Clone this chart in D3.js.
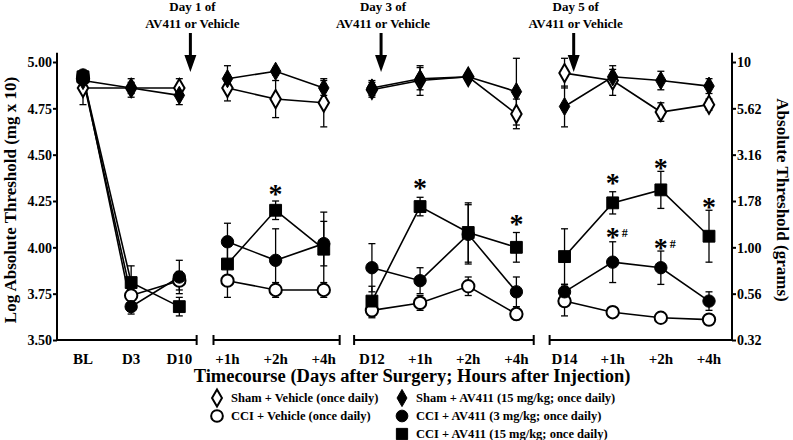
<!DOCTYPE html>
<html><head><meta charset="utf-8">
<script src="https://cdn.jsdelivr.net/npm/d3@7"></script>
<style>body{margin:0;background:#fff}svg{display:block}text{font-family:"Liberation Serif","Times New Roman",serif;font-weight:bold;fill:#000}</style>
</head><body><svg id="c" width="793" height="440"></svg>
<script>
const categories = ["BL","D3","D10","+1h","+2h","+4h","D12","+1h","+2h","+4h","D14","+1h","+2h","+4h"];
const panels = [[0,2],[3,5],[6,9],[10,13]];
const shamVeh  = [4.86,4.86,4.86, 4.86,4.80,4.78, 4.85,4.90,4.92,4.72, 4.94,4.90,4.73,4.77];
const shamAV   = [4.90,4.86,4.82, 4.91,4.95,4.86, 4.86,4.91,4.92,4.84, 4.76,4.92,4.90,4.87];
const cciVeh   = [4.91,3.74,3.82, 3.82,3.77,3.77, 3.66,3.70,3.79,3.64, 3.71,3.65,3.62,3.61];
const cciAV3   = [4.93,3.68,3.84, 4.03,3.93,4.02, 3.89,3.82,4.07,3.76, 3.76,3.92,3.89,3.71];
const cciAV15  = [4.92,3.81,3.68, 3.91,4.20,3.99, 3.71,4.22,4.08,4.00, 3.95,4.24,4.31,4.06];
const shamVehErr = [0.09,0.05,0.05, 0.07,0.10,0.13, 0.04,0.08,0.02,0.08, 0.08,0.08,0.05,0.03];
const shamAVErr  = [0.03,0.03,0.05, 0.07,0.02,0.04, 0.04,0.06,0.02,0.18, 0.11,0.04,0.05,0.04];
const cciVehErr  = [0.03,0.05,0.05, 0.09,0.04,0.04, 0.04,0.04,0.05,0.03, 0.08,0.02,0.02,0.02];
const cciAV3Err  = [0.02,0.04,0.09, 0.10,0.17,0.12, 0.13,0.07,0.16,0.08, 0.04,0.11,0.09,0.05];
const cciAV15Err = [0.02,0.09,0.05, 0.10,0.05,0.20, 0.08,0.05,0.16,0.08, 0.15,0.06,0.10,0.14];
const leftTicks = [3.5,3.75,4.0,4.25,4.5,4.75,5.0];
const rightTickLabels = ["0.32","0.56","1.00","1.78","3.16","5.62","10"];
const seriesNames = ["Sham + Vehicle (once daily)","CCI + Vehicle (once daily)","Sham + AV411 (15 mg/kg; once daily)","CCI + AV411 (3 mg/kg; once daily)","CCI + AV411 (15 mg/kg; once daily)"];
const seriesShapes = ["diamond","circle","diamond","circle","square"];
const seriesFilled = [false,false,true,true,true];
const seriesValues = [shamVeh,cciVeh,shamAV,cciAV3,cciAV15];
const seriesErrors = [shamVehErr,cciVehErr,shamAVErr,cciAV3Err,cciAV15Err];
const doseLabels = [["Day 1 of","AV411 or Vehicle"],["Day 3 of","AV411 or Vehicle"],["Day 5 of","AV411 or Vehicle"]];
const doseArrowPos = [2.23,6.19,10.19];
const sigPos = [4,7,9,11,12,13,11,12];
const sigLevel = [4.31,4.34,4.15,4.37,4.45,4.24,4.08,4.02];
const sigText = ["*","*","*","*","*","*","*#","*#"];

const svg = d3.select("#c");
const x = d3.scaleLinear().domain([0,13]).range([83,709]);
const y = d3.scaleLinear().domain([3.5,5.0]).range([340,62]);
const xL = 57, xR = 732;

// Y axes
const ga = svg.append("g").attr("transform",`translate(${xL},0)`)
  .call(d3.axisLeft(y).tickValues(leftTicks).tickFormat(d3.format(".2f")).tickSize(4).tickSizeOuter(0));
ga.select(".domain").remove();
ga.selectAll("line").attr("stroke-width",2);
ga.selectAll("text").style("font-size","14px").attr("x",-5).attr("dy","0.35em");
svg.append("line").attr("x1",xL).attr("x2",xL).attr("y1",y(5.05)).attr("y2",y(3.5)).attr("stroke","#000").attr("stroke-width",2);

const gr = svg.append("g").attr("transform",`translate(${xR},0)`)
  .call(d3.axisRight(y).tickValues(leftTicks).tickFormat((d,i)=>rightTickLabels[i]).tickSize(4).tickSizeOuter(0));
gr.select(".domain").remove();
gr.selectAll("line").attr("stroke-width",2);
gr.selectAll("text").style("font-size","14px").attr("x",5).attr("dy","0.35em");
svg.append("line").attr("x1",xR).attr("x2",xR).attr("y1",y(5.05)).attr("y2",y(3.5)).attr("stroke","#000").attr("stroke-width",2);

// X axis segments
const segPad = [[null,0.36],[0.29,0.33],[0.37,0.36],[0.31,null]];
panels.forEach((p,i)=>{
  const a = segPad[i][0]===null ? xL : x(p[0]-segPad[i][0]);
  const b = segPad[i][1]===null ? xR : x(p[1]+segPad[i][1]);
  svg.append("line").attr("x1",a).attr("x2",b).attr("y1",340).attr("y2",340).attr("stroke","#000").attr("stroke-width",2);
  if (segPad[i][0]!==null) svg.append("line").attr("x1",a).attr("x2",a).attr("y1",335).attr("y2",345).attr("stroke","#000").attr("stroke-width",2);
  if (segPad[i][1]!==null) svg.append("line").attr("x1",b).attr("x2",b).attr("y1",335).attr("y2",345).attr("stroke","#000").attr("stroke-width",2);
});
svg.append("g").selectAll("text").data(categories).join("text")
  .attr("x",(d,i)=>x(i)).attr("y",364).attr("text-anchor","middle").style("font-size","15px").text(d=>d);

// Titles
svg.append("text").attr("x",412).attr("y",382).attr("text-anchor","middle").style("font-size","18.5px")
  .text("Timecourse (Days after Surgery; Hours after Injection)");
svg.append("text").attr("transform","translate(16,200) rotate(-90)").attr("text-anchor","middle").style("font-size","17px")
  .text("Log Absolute Threshold (mg x 10)");
svg.append("text").attr("transform","translate(777,200) rotate(90)").attr("text-anchor","middle").style("font-size","17px")
  .text("Absolute Threshold (grams)");

// Dose annotations
doseLabels.forEach((lab,i)=>{
  const ax = x(doseArrowPos[i]);
  svg.append("text").attr("x",ax+2).attr("y",11).attr("text-anchor","middle").style("font-size","13px").text(lab[0]);
  svg.append("text").attr("x",ax+2).attr("y",28).attr("text-anchor","middle").style("font-size","13px").text(lab[1]);
  svg.append("line").attr("x1",ax).attr("x2",ax).attr("y1",33).attr("y2",57).attr("stroke","#000").attr("stroke-width",3);
  svg.append("path").attr("d",`M${ax-6},55L${ax+6},55L${ax},72Z`).attr("fill","#000");
});

const sym = {diamond:d3.symbolDiamond, circle:d3.symbolCircle, square:d3.symbolSquare};
const symSize = {diamond:95, circle:120, square:140};

// Lines
const line = d3.line().x(d=>x(d[0])).y(d=>y(d[1]));
seriesValues.forEach(vals=>{
  panels.forEach(p=>{
    const pts = d3.range(p[0],p[1]+1).map(i=>[i,vals[i]]);
    svg.append("path").attr("d",line(pts)).attr("fill","none").attr("stroke","#000").attr("stroke-width",1.6);
  });
});
// Error bars
seriesValues.forEach((vals,s)=>{
  const err = seriesErrors[s];
  const g = svg.append("g").attr("stroke","#000").attr("stroke-width",1.3);
  vals.forEach((v,i)=>{
    const cx = x(i), y1 = y(v+err[i]), y2 = y(v-err[i]);
    g.append("line").attr("x1",cx).attr("x2",cx).attr("y1",y1).attr("y2",y2);
    g.append("line").attr("x1",cx-3.5).attr("x2",cx+3.5).attr("y1",y1).attr("y2",y1);
    g.append("line").attr("x1",cx-3.5).attr("x2",cx+3.5).attr("y1",y2).attr("y2",y2);
  });
});
// Markers
seriesValues.forEach((vals,s)=>{
  const shp = seriesShapes[s];
  svg.append("g").selectAll("path").data(vals).join("path")
    .attr("d",d3.symbol(sym[shp],symSize[shp]))
    .attr("transform",(d,i)=>`translate(${x(i)},${y(d)})`)
    .attr("fill",seriesFilled[s]?"#000":"#fff").attr("stroke","#000").attr("stroke-width",seriesFilled[s]?1:2);
});
// Significance marks
sigText.forEach((t,k)=>{
  const cx = x(sigPos[k]), cy = y(sigLevel[k]);
  svg.append("text").attr("x",cx).attr("y",cy+13).attr("text-anchor","middle").style("font-size","28px").text("*");
  if (t.length>1) svg.append("text").attr("x",cx+9).attr("y",cy+4).style("font-size","12px").text("#");
});

// Legend
const legX = [217,402], legY = [398,416,434];
const legPos = [[0,0],[0,1],[1,0],[1,1],[1,2]];
seriesNames.forEach((n,s)=>{
  const [c,r] = legPos[s];
  const shp = seriesShapes[s];
  svg.append("path").attr("d",d3.symbol(sym[shp],symSize[shp]*0.9))
    .attr("transform",`translate(${legX[c]},${legY[r]})`)
    .attr("fill",seriesFilled[s]?"#000":"#fff").attr("stroke","#000").attr("stroke-width",seriesFilled[s]?1:2);
  svg.append("text").attr("x",legX[c]+14).attr("y",legY[r]+4).style("font-size","12.5px").text(n);
});
</script></body></html>
